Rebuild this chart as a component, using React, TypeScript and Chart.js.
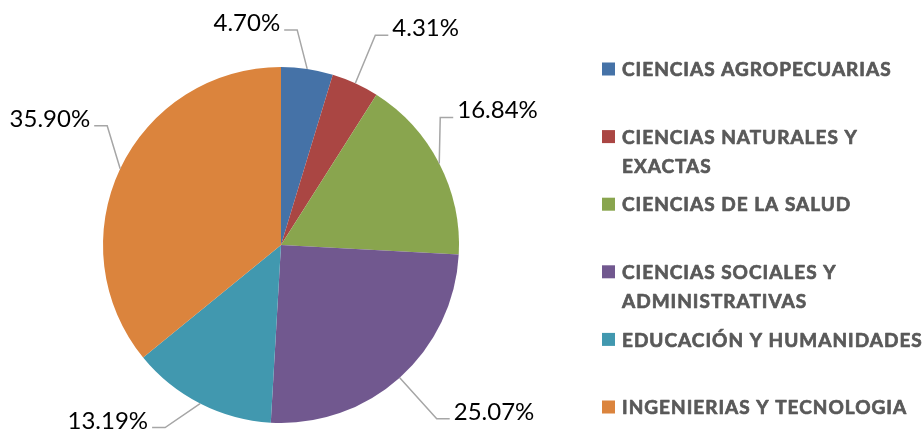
import React, { useEffect, useRef } from "react";
import { Chart, registerables } from "chart.js";

Chart.register(...registerables);

// ---- data ----
const categories: string[][] = [
  ["CIENCIAS AGROPECUARIAS"],
  ["CIENCIAS NATURALES Y", "EXACTAS"],
  ["CIENCIAS DE LA SALUD"],
  ["CIENCIAS SOCIALES Y", "ADMINISTRATIVAS"],
  ["EDUCACIÓN Y HUMANIDADES"],
  ["INGENIERIAS Y TECNOLOGIA"],
];
const shares: number[] = [4.7, 4.31, 16.84, 25.07, 13.19, 35.9];
const colors: string[] = ["#4572A7", "#AA4643", "#89A54E", "#71588F", "#4198AF", "#DB843D"];

// label placement (leader elbow offset from slice edge, and side of text)
const labelElbow: [number, number][] = [
  [-10, -39],
  [20, -48],
  [1, -46],
  [37, 41],
  [-35, 24],
  [-13, -43],
];
const labelSide: number[] = [-1, 1, 1, 1, -1, -1];

const LABEL_FONT = "24px Lato";
const LEGEND_FONT = "bold 19px Lato";

const labelPlugin = {
  id: "pieLabels",
  afterDatasetsDraw(chart: any) {
    const ctx: any = chart.ctx;
    const meta = chart.getDatasetMeta(0);
    const data = chart.data.datasets[0].data as number[];
    ctx.save();
    meta.data.forEach((arc: any, i: number) => {
      const { x, y, startAngle, endAngle, outerRadius } = arc.getProps(
        ["x", "y", "startAngle", "endAngle", "outerRadius"],
        true
      );
      const mid = (startAngle + endAngle) / 2;
      const ax = x + Math.cos(mid) * outerRadius;
      const ay = y + Math.sin(mid) * outerRadius;
      const ex = ax + labelElbow[i][0];
      const ey = ay + labelElbow[i][1];
      const side = labelSide[i];
      ctx.strokeStyle = "#A6A6A6";
      ctx.lineWidth = 1.5;
      ctx.beginPath();
      ctx.moveTo(ax, ay);
      ctx.lineTo(ex, ey);
      ctx.lineTo(ex + side * 13, ey);
      ctx.stroke();
      ctx.fillStyle = "#000000";
      ctx.font = LABEL_FONT;
      ctx.letterSpacing = "0px";
      ctx.textAlign = side > 0 ? "left" : "right";
      ctx.textBaseline = "alphabetic";
      ctx.fillText(data[i].toFixed(2) + "%", ex + side * 17, ey + 1);
    });
    ctx.restore();
  },
};

const legendPlugin = {
  id: "sideLegend",
  afterDraw(chart: any) {
    const ctx: any = chart.ctx;
    const x0 = 602;
    const y0 = 69;
    const slot = 67.6;
    const lineH = 29;
    ctx.save();
    ctx.font = LEGEND_FONT;
    ctx.letterSpacing = "1px";
    ctx.textBaseline = "middle";
    ctx.textAlign = "left";
    ctx.lineWidth = 0.7;
    ctx.lineJoin = "round";
    categories.forEach((lines, i) => {
      const cy = y0 + i * slot;
      ctx.fillStyle = colors[i];
      ctx.fillRect(x0, cy - 6.5, 13, 13);
      ctx.fillStyle = "#595959";
      ctx.strokeStyle = "#595959";
      lines.forEach((t, j) => {
        ctx.fillText(t, x0 + 20, cy + j * lineH + 1);
        ctx.strokeText(t, x0 + 20, cy + j * lineH + 1);
      });
    });
    ctx.restore();
  },
};

export default function App() {
  const ref = useRef<HTMLCanvasElement>(null);
  useEffect(() => {
    if (!ref.current) return;
    const chart = new Chart(ref.current, {
      type: "pie",
      data: {
        labels: categories.map((c) => c.join(" ")),
        datasets: [
          {
            data: shares,
            backgroundColor: colors,
            borderWidth: 0,
          },
        ],
      },
      options: {
        responsive: false,
        animation: false,
        layout: { padding: { left: 103, top: 67, right: 465, bottom: 7 } },
        plugins: {
          legend: { display: false },
          tooltip: { enabled: false },
        },
      },
      plugins: [labelPlugin, legendPlugin],
    });
    return () => chart.destroy();
  }, []);
  return (
    <div style={{ position: "absolute", left: 0, top: 0, width: 924, height: 430, background: "#fff" }}>
      <canvas ref={ref} width={924} height={430} />
    </div>
  );
}
